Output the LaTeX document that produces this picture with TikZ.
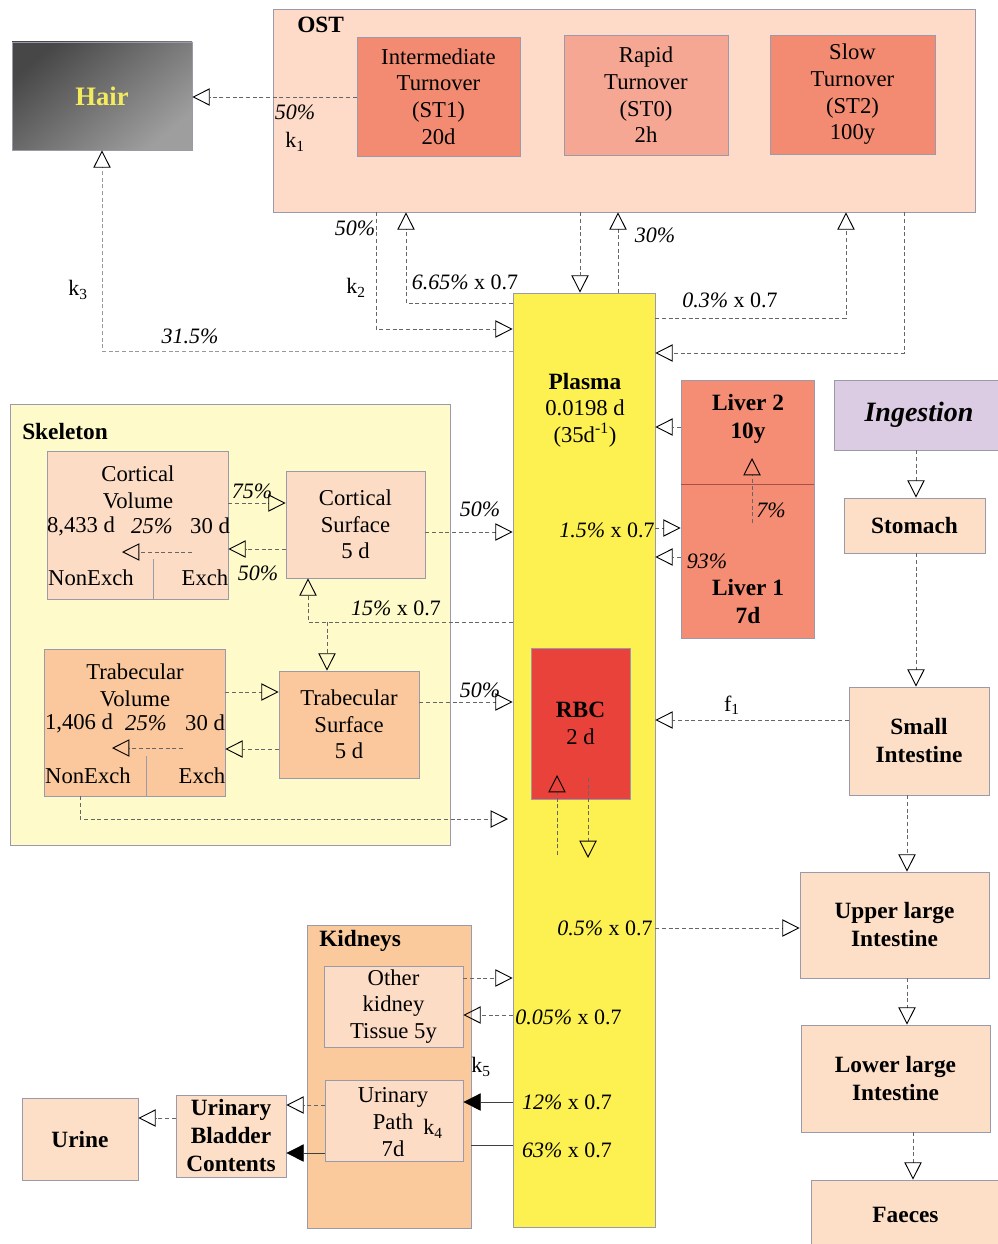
\documentclass[tikz,border=0pt]{standalone}
\usepackage{fontspec}
\setmainfont{Liberation Serif}
\usetikzlibrary{arrows.meta}
\newcommand\myfs{\fontsize{17}{20}\selectfont}
\newcommand\mylb{\fontsize{16.5}{20}\selectfont}
\newcommand\mybf{\fontsize{17.5}{21}\selectfont\bfseries}
\newcommand\mypc[1]{\textit{#1\%}}
\definecolor{ostbg}{HTML}{FDDBC8}
\definecolor{stdark}{HTML}{F38B72}
\definecolor{stlight}{HTML}{F5A794}
\definecolor{plasmay}{HTML}{FDF152}
\definecolor{liverc}{HTML}{F48D74}
\definecolor{liverline}{HTML}{A65048}
\definecolor{rbcc}{HTML}{E8423A}
\definecolor{skelbg}{HTML}{FEFAC9}
\definecolor{cortc}{HTML}{FCDCC5}
\definecolor{trabc}{HTML}{FAC89C}
\definecolor{kidc}{HTML}{FAC99C}
\definecolor{ingc}{HTML}{DCCCE3}
\definecolor{gic}{HTML}{FDDFC7}
\definecolor{edgec}{HTML}{9A9AAA}
\definecolor{hairtxt}{HTML}{F3EA5C}
\tikzset{
  box/.style={draw=edgec, line width=0.6pt, inner sep=0pt, align=center, font=\myfs},
  sz/.style 2 args={minimum width=#1*0.75pt, minimum height=#2*0.75pt},
  txt/.style={inner sep=0pt, align=center, font=\myfs},
  btxt/.style={inner sep=0pt, align=center, font=\mybf},
  lab/.style={inner sep=0pt, font=\mylb},
  flow/.style={draw=black!60, line width=0.6pt, dash pattern=on 3pt off 2pt,
    -{Triangle[open,length=13pt,width=13pt,color=black,line width=0.7pt]}},
  sflow/.style={draw=black!75, line width=0.7pt, -{Triangle[length=13pt,width=13pt,color=black]}},
  sline/.style={draw=black!75, line width=0.7pt}
}
\begin{document}
\begin{tikzpicture}[x=0.75pt,y=-0.75pt]
\useasboundingbox (0,0) rectangle (997,1244);

% ---------- containers ----------
\node[box, sz={702}{203}, fill=ostbg] (ost) at (624,110.5) {};
\node[box, sz={440}{441}, fill=skelbg] (skel) at (230,624.5) {};
\node[box, sz={164}{303}, fill=kidc] (kid) at (389,1076.5) {};
\node[box, sz={142}{934}, fill=plasmay] (plasma) at (584,760) {};

% ---------- OST ----------
\node[btxt, anchor=west] (ostlab) at (297,25) {OST};
\node[box, sz={163}{119}, fill=stdark] (st1) at (438.5,96.5) {Intermediate\\Turnover\\(ST1)\\20d};
\node[box, sz={164}{120}, fill=stlight] (st0) at (646,95) {Rapid\\Turnover\\(ST0)\\2h};
\node[box, sz={165}{119}, fill=stdark] (st2) at (852.5,94.5) {Slow\\Turnover\\(ST2)\\100y};

% ---------- Hair ----------
\node[box, sz={180}{108}, top color=black!72, bottom color=black!38, shading angle=40,
  font=\fontsize{20}{24}\selectfont\bfseries, text=hairtxt] (hair) at (102,96) {Hair};

% ---------- Plasma ----------
\node[txt] (plasmatxt) at (585,410) {{\mybf Plasma}\\0.0198 d\\(35d\textsuperscript{-1})};

% ---------- Liver ----------
\node[box, sz={133}{104}, fill=liverc] (liver2) at (747.5,432) {};
\node[box, sz={133}{154}, fill=liverc] (liver1) at (747.5,561) {};
\draw[draw=liverline, line width=0.8pt] (liver2.south west) -- (liver2.south east);
\node[btxt] (liver2txt) at (748,419) {Liver 2\\10y};
\node[btxt] (liver1txt) at (748,602) {Liver 1\\7d};

% ---------- GI tract ----------
\node[box, sz={170}{70}, fill=ingc, font=\fontsize{21}{24}\selectfont\bfseries\itshape] (ing) at (919,415) {Ingestion};
\node[box, sz={141}{55}, fill=gic, font=\mybf] (stom) at (914.5,525.5) {Stomach};
\node[box, sz={140}{108}, fill=gic, font=\mybf] (si) at (919,741) {Small\\Intestine};
\node[box, sz={189}{106}, fill=gic, font=\mybf] (upper) at (894.5,925) {Upper large\\Intestine};
\node[box, sz={189}{107}, fill=gic, font=\mybf] (lower) at (895.5,1078.5) {Lower large\\Intestine};
\node[box, sz={189}{70}, fill=gic, font=\mybf] (faeces) at (905.5,1215) {Faeces};

% ---------- RBC ----------
\node[box, sz={99}{151}, fill=rbcc] (rbc) at (580.5,723.5) {{\mybf RBC}\\2 d};

% ---------- Skeleton ----------
\node[btxt, anchor=west] (skellab) at (22,432) {Skeleton};
\node[box, sz={181}{148}, fill=cortc] (cv) at (137.5,525) {};
\node[txt] (cvt1) at (138,487) {Cortical\\Volume};
\node[txt] (cvt2) at (81,526) {8,433 d};
\node[txt] (cvt3) at (152,526) {\mypc{25}};
\node[txt] (cvt4) at (210,526) {30 d};
\node[txt] (cvt5) at (91,578) {NonExch};
\node[txt] (cvt6) at (205,578) {Exch};
\draw[draw=edgec, line width=0.6pt] (153,559) -- (cv.south -| 153,0);
\node[box, sz={139}{107}, fill=cortc] (cs) at (355.5,524.5) {Cortical\\Surface\\5 d};

\node[box, sz={181}{147}, fill=trabc] (tv) at (134.5,722.5) {};
\node[txt] (tvt1) at (135,685) {Trabecular\\Volume};
\node[txt] (tvt2) at (79,723) {1,406 d};
\node[txt] (tvt3) at (146,723) {\mypc{25}};
\node[txt] (tvt4) at (205,723) {30 d};
\node[txt] (tvt5) at (88,776) {NonExch};
\node[txt] (tvt6) at (202,776) {Exch};
\draw[draw=edgec, line width=0.6pt] (146,756) -- (tv.south -| 146,0);
\node[box, sz={140}{107}, fill=trabc] (ts) at (349,724.5) {Trabecular\\Surface\\5 d};

% ---------- Kidneys ----------
\node[btxt, anchor=west] (kidlab) at (319,941) {Kidneys};
\node[box, sz={139}{81}, fill=cortc] (okt) at (393.5,1006.5) {Other\\kidney\\Tissue 5y};
\node[box, sz={138}{81}, fill=cortc] (up) at (394,1120.5) {};
\node[txt] (uptxt) at (393,1122) {Urinary\\Path\\7d};
\node[box, sz={110}{82}, fill=gic, font=\mybf] (ub) at (231,1136) {Urinary\\Bladder\\Contents};
\node[box, sz={116}{82}, fill=gic, font=\mybf] (urine) at (80,1139) {Urine};

% ---------- connectors: OST / Hair ----------
\draw[flow] (st1.west |- 0,97) -- (hair.east |- 0,97);
\draw[flow, draw=black!40] (plasma.west |- 0,351) -| (hair.south);
\draw[flow] (ost.south -| 376,0) |- (plasma.west |- 0,329);
\draw[flow] (plasma.west |- 0,303) -| (ost.south -| 406,0);
\draw[flow] (ost.south -| 580,0) -- (plasma.north -| 580,0);
\draw[flow] (plasma.north -| 618,0) -- (ost.south -| 618,0);
\draw[flow] (plasma.east |- 0,318) -| (ost.south -| 846,0);
\draw[flow] (ost.south -| 904,0) |- (plasma.east |- 0,353);

% ---------- connectors: liver ----------
\draw[flow] (liver2.west |- 0,427) -- (plasma.east |- 0,427);
\draw[flow] (plasma.east |- 0,528) -- (liver1.west |- 0,528);
\draw[flow] (liver1.west |- 0,557) -- (plasma.east |- 0,557);
\coordinate (l7a) at (752,523);
\coordinate (l7b) at (752,458);
\draw[flow] (l7a) -- (l7b);

% ---------- connectors: GI ----------
\draw[flow] (ing.south -| 916,0) -- (stom.north -| 916,0);
\draw[flow] (stom.south -| 916,0) -- (si.north -| 916,0);
\draw[flow] (si.west |- 0,720) -- (plasma.east |- 0,720);
\draw[flow] (si.south -| 907,0) -- (upper.north -| 907,0);
\draw[flow] (upper.south -| 907,0) -- (lower.north -| 907,0);
\draw[flow] (lower.south -| 913,0) -- (faeces.north -| 913,0);
\draw[flow] (plasma.east |- 0,928) -- (upper.west |- 0,928);

% ---------- connectors: RBC ----------
\coordinate (r1a) at (557,855);
\coordinate (r1b) at (557,775);
\coordinate (r2a) at (588,778);
\coordinate (r2b) at (588,858);
\draw[flow] (r1a) -- (r1b);
\draw[flow] (r2a) -- (r2b);

% ---------- connectors: skeleton ----------
\draw[flow] (cv.east |- 0,503) -- (cs.west |- 0,503);
\draw[flow] (cs.west |- 0,549) -- (cv.east |- 0,549);
\coordinate (cva) at (192,552);
\coordinate (cvb) at (122,552);
\draw[flow] (cva) -- (cvb);
\draw[flow] (cs.east |- 0,532) -- (plasma.west |- 0,532);
\draw[flow] (plasma.west |- 0,622) -| (cs.south -| 308,0);
\coordinate (br) at (327,622);
\draw[flow] (br) -- (ts.north -| 327,0);
\draw[flow] (tv.east |- 0,692) -- (ts.west |- 0,692);
\draw[flow] (ts.west |- 0,749) -- (tv.east |- 0,749);
\coordinate (tva) at (183,748);
\coordinate (tvb) at (112,748);
\draw[flow] (tva) -- (tvb);
\draw[flow] (ts.east |- 0,702) -- (plasma.west |- 0,702);
\coordinate (nxend) at (508,819);
\draw[flow] (tv.south -| 80,0) |- (nxend);

% ---------- connectors: kidneys ----------
\draw[flow] (okt.east |- 0,978) -- (plasma.west |- 0,978);
\draw[flow] (plasma.west |- 0,1015) -- (okt.east |- 0,1015);
\draw[sflow] (plasma.west |- 0,1102) -- (up.east |- 0,1102);
\draw[sline] (plasma.west |- 0,1145) -- (kid.east |- 0,1145);
\draw[flow] (up.west |- 0,1105) -- (ub.east |- 0,1105);
\draw[sflow] (up.west |- 0,1153) -- (ub.east |- 0,1153);
\draw[flow] (ub.west |- 0,1118) -- (urine.east |- 0,1118);

% ---------- labels ----------
\node[lab] (l50a) at (295,112) {\mypc{50}};
\node[lab] (lk1) at (295,142) {k\textsubscript{1}};
\node[lab] (l315) at (190,336) {\mypc{31.5}};
\node[lab] (lk3) at (78,290) {k\textsubscript{3}};
\node[lab] (l50b) at (355,228) {\mypc{50}};
\node[lab] (lk2) at (356,288) {k\textsubscript{2}};
\node[lab] (l665) at (465,282) {\mypc{6.65} x 0.7};
\node[lab] (l30) at (655,235) {\mypc{30}};
\node[lab] (l03) at (730,300) {\mypc{0.3} x 0.7};
\node[lab] (l15l) at (607,530) {\mypc{1.5} x 0.7};
\node[lab] (l93) at (707,561) {\mypc{93}};
\node[lab] (l7) at (771,510) {\mypc{7}};
\node[lab] (lf1) at (732,705) {f\textsubscript{1}};
\node[lab] (l05) at (605,928) {\mypc{0.5} x 0.7};
\node[lab] (l75) at (252,491) {\mypc{75}};
\node[lab] (l50c) at (258,573) {\mypc{50}};
\node[lab] (l50d) at (480,509) {\mypc{50}};
\node[lab] (l15) at (396,608) {\mypc{15} x 0.7};
\node[lab] (l50e) at (480,690) {\mypc{50}};
\node[lab, anchor=west] (l005) at (515,1017) {\mypc{0.05} x 0.7};
\node[lab] (lk5) at (481,1067) {k\textsubscript{5}};
\node[lab] (l12) at (567,1102) {\mypc{12} x 0.7};
\node[lab] (l63) at (567,1150) {\mypc{63} x 0.7};
\node[lab] (lk4) at (433,1129) {k\textsubscript{4}};
\end{tikzpicture}
\end{document}
